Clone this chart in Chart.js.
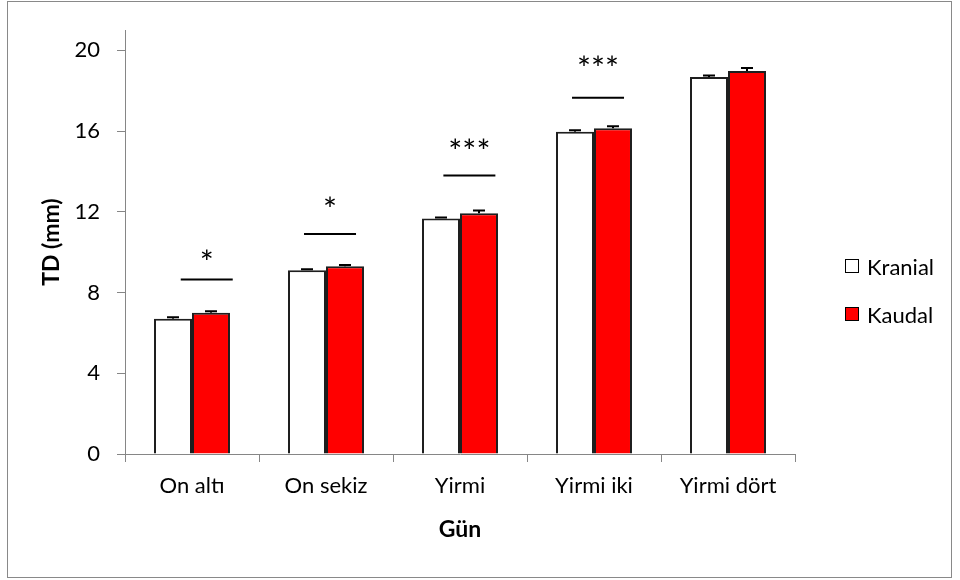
<!DOCTYPE html>
<html>
<head>
<meta charset="utf-8">
<script src="https://cdn.jsdelivr.net/npm/chart.js@4.4.1/dist/chart.umd.min.js"></script>
<style>
  html, body { margin: 0; padding: 0; background: #fff; }
  #wrap { position: relative; width: 960px; height: 580px; }
  #frame { position: absolute; left: 7px; top: 1px; width: 943px; height: 575px; border: 1px solid #898989; pointer-events: none; }
  #legend { position: absolute; left: 845px; top: 253px; font: 22px Lato, sans-serif; color: #000; }
  .item { display: flex; align-items: center; height: 26px; margin-bottom: 22px; }
  .box { width: 12px; height: 12px; border: 1px solid #000; margin-right: 8px; }
</style>
</head>
<body>
<div id="wrap">
  <canvas id="c" width="960" height="580"></canvas>
  <div id="frame"></div>
  <div id="legend"></div>
</div>
<script>
// Days of development
const days = ['On altı', 'On sekiz', 'Yirmi', 'Yirmi iki', 'Yirmi dört'];

// TD (mm) means and their standard errors
const kranial = [6.7, 9.1, 11.67, 15.97, 18.68];
const kranialErr = [0.08, 0.06, 0.05, 0.07, 0.07];
const kaudal = [7.0, 9.3, 11.93, 16.14, 18.98];
const kaudalErr = [0.07, 0.07, 0.13, 0.1, 0.15];

// Y axis tick values
const yTicks = [0, 4, 8, 12, 16, 20];

// Significance marks per day: bracket level and star level in mm
const sigMarks = ['*', '*', '***', '***', ''];
const sigLine = [8.65, 10.9, 13.8, 17.65, null];
const sigStar = [9.75, 12.4, 15.25, 19.35, null];

const FONT = 'Lato, sans-serif';
const AXIS = '#868686';

// Horizontal nudge of each significance bracket, in category widths
const sigShift = [0.11, 0.03, 0.07, 0.03, 0];

// Plus-side error bars with caps
const errorBars = {
  id: 'errorBars',
  afterDatasetsDraw(chart) {
    const { ctx, scales: { y } } = chart;
    ctx.save();
    ctx.strokeStyle = '#000';
    ctx.lineWidth = 2;
    chart.data.datasets.forEach((ds, i) => {
      const meta = chart.getDatasetMeta(i);
      meta.data.forEach((bar, j) => {
        const top = y.getPixelForValue(ds.data[j] + ds.errors[j]);
        ctx.beginPath();
        ctx.moveTo(bar.x, bar.y);
        ctx.lineTo(bar.x, top);
        ctx.moveTo(bar.x - 6, top);
        ctx.lineTo(bar.x + 6, top);
        ctx.stroke();
      });
    });
    ctx.restore();
  }
};

// Significance brackets and stars
const significance = {
  id: 'significance',
  afterDatasetsDraw(chart) {
    const { ctx, scales: { x, y } } = chart;
    const step = x.getPixelForValue(1) - x.getPixelForValue(0);
    ctx.save();
    ctx.strokeStyle = '#000';
    ctx.fillStyle = '#000';
    ctx.lineWidth = 2;
    sigMarks.forEach((mark, i) => {
      if (!mark) return;
      const cx = x.getPixelForValue(i) + sigShift[i] * step;
      const ly = y.getPixelForValue(sigLine[i]);
      ctx.beginPath();
      ctx.moveTo(cx - 26, ly);
      ctx.lineTo(cx + 26, ly);
      ctx.stroke();
      ctx.font = '33px ' + FONT;
      ctx.textAlign = 'center';
      ctx.textBaseline = 'alphabetic';
      ctx.fillText(mark, cx, y.getPixelForValue(sigStar[i]) + 17);
    });
    ctx.restore();
  }
};

const chart = new Chart(document.getElementById('c'), {
  type: 'bar',
  data: {
    labels: days,
    datasets: [
      { label: 'Kranial', data: kranial, errors: kranialErr, backgroundColor: '#ffffff', borderColor: '#1e1e1e', borderWidth: 2 },
      { label: 'Kaudal', data: kaudal, errors: kaudalErr, backgroundColor: '#ff0000', borderColor: '#1e1e1e', borderWidth: 2 }
    ]
  },
  options: {
    responsive: false,
    animation: false,
    layout: { padding: { top: 30, right: 165, bottom: 0, left: 0 } },
    datasets: { bar: { categoryPercentage: 0.567, barPercentage: 1 } },
    plugins: { legend: { display: false }, tooltip: { enabled: false } },
    scales: {
      x: {
        grid: { drawOnChartArea: false, drawTicks: true, tickLength: 8, color: AXIS, offset: true },
        border: { color: AXIS, width: 1 },
        ticks: { color: '#000', font: { family: FONT, size: 22 }, padding: 11, maxRotation: 0 },
        title: { display: true, text: 'Gün', color: '#000', font: { family: FONT, size: 23, weight: 'bold' }, padding: { top: 0, bottom: 37 } },
        afterFit(s) { s.height = 126; }
      },
      y: {
        min: 0,
        max: 21,
        afterBuildTicks(s) { s.ticks = yTicks.map(v => ({ value: v })); },
        grid: { drawOnChartArea: false, drawTicks: true, tickLength: 8, color: AXIS },
        border: { color: AXIS, width: 1 },
        ticks: { color: '#000', font: { family: FONT, size: 22 }, padding: 17 },
        title: { display: true, text: 'TD (mm)', color: '#000', font: { family: FONT, size: 23, weight: 'bold' }, padding: { top: 38, bottom: 0 } },
        afterFit(s) { s.width = 125; }
      }
    }
  },
  plugins: [errorBars, significance]
});

// Legend built from the datasets
const legend = document.getElementById('legend');
chart.data.datasets.forEach(ds => {
  const item = document.createElement('div');
  item.className = 'item';
  const box = document.createElement('span');
  box.className = 'box';
  box.style.background = ds.backgroundColor;
  const label = document.createElement('span');
  label.textContent = ds.label;
  item.appendChild(box);
  item.appendChild(label);
  legend.appendChild(item);
});
</script>
</body>
</html>
